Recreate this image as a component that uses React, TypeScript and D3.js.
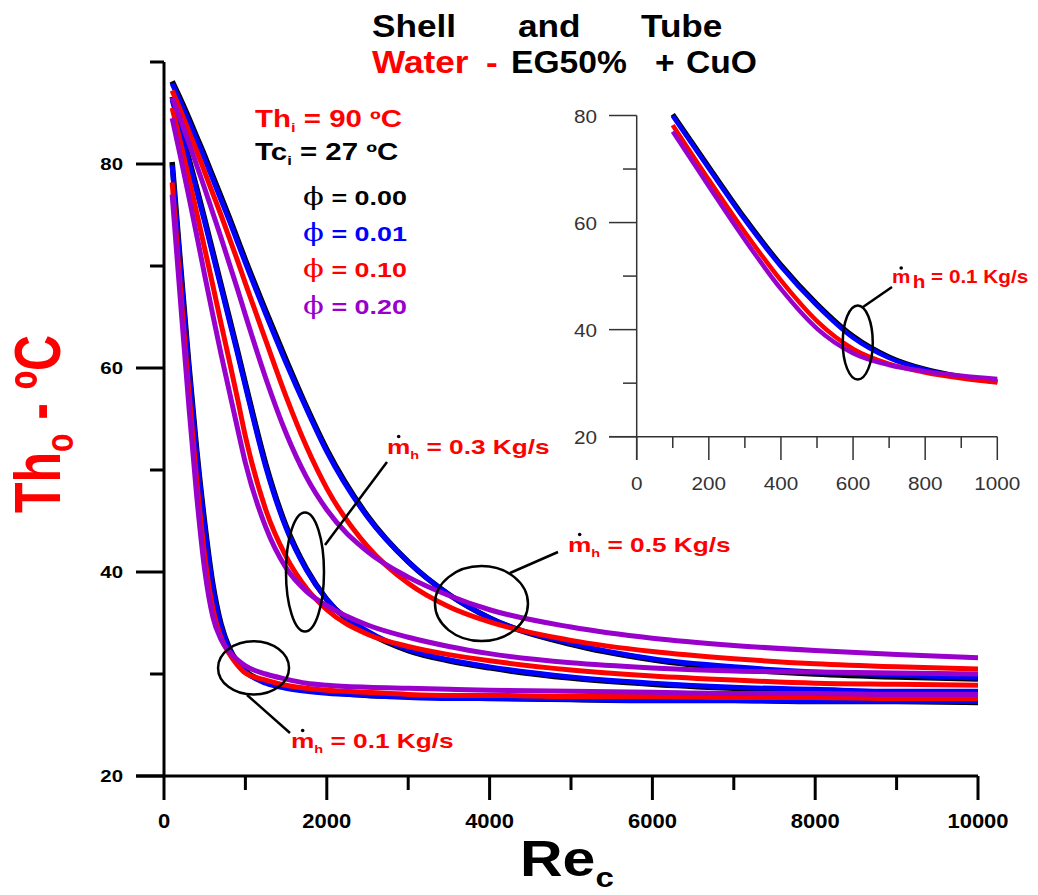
import React from "react";
import * as d3 from "d3";

// ---------- data ----------
const RE = [100, 200, 300, 400, 500, 600, 700, 800, 900, 1000, 1250, 1500, 1750, 2000, 2500, 3000, 3500, 4000, 5000, 6000, 7000, 8000, 9000, 10000];

// m_h = 0.1 kg/s
const MH01_PHI000 = [80.2, 70.4, 60.8, 52.1, 44.8, 38.8, 34.9, 32.6, 31.2, 30.3, 29.2, 28.7, 28.4, 28.2, 27.9, 27.8, 27.7, 27.6, 27.5, 27.4, 27.4, 27.3, 27.3, 27.2];
const MH01_PHI001 = [79.9, 70.1, 60.5, 51.8, 44.5, 38.5, 34.7, 32.5, 31.1, 30.2, 29.1, 28.6, 28.3, 28.1, 27.9, 27.7, 27.6, 27.6, 27.5, 27.4, 27.4, 27.3, 27.3, 27.3];
const MH01_PHI010 = [78.2, 68.0, 58.2, 49.2, 41.6, 36.4, 33.6, 32.0, 30.9, 30.1, 29.4, 28.9, 28.6, 28.4, 28.2, 28.0, 27.9, 27.9, 27.8, 27.8, 27.7, 27.7, 27.6, 27.6];
const MH01_PHI020 = [77.0, 66.8, 56.8, 47.6, 40.2, 35.6, 33.4, 32.2, 31.4, 30.8, 30.0, 29.5, 29.1, 28.9, 28.7, 28.6, 28.5, 28.4, 28.3, 28.2, 28.1, 28.1, 28.0, 28.0];

// m_h = 0.3 kg/s
const MH03_PHI000 = [86.6, 83.7, 80.7, 77.7, 74.6, 71.4, 68.2, 65.0, 61.8, 58.5, 50.6, 44.5, 40.3, 37.3, 34.1, 32.3, 31.3, 30.6, 29.6, 29.0, 28.6, 28.3, 28.1, 28.0];
const MH03_PHI001 = [86.3, 83.4, 80.4, 77.4, 74.3, 71.1, 67.9, 64.7, 61.5, 58.2, 50.3, 44.3, 40.2, 37.3, 34.2, 32.4, 31.4, 30.7, 29.7, 29.1, 28.7, 28.5, 28.3, 28.3];
const MH03_PHI010 = [85.5, 82.2, 78.8, 75.3, 71.7, 68.1, 64.4, 60.8, 57.1, 53.3, 46.1, 41.5, 38.4, 36.3, 33.9, 32.7, 31.9, 31.3, 30.4, 29.8, 29.4, 29.1, 29.0, 28.9];
const MH03_PHI020 = [84.5, 80.8, 77.0, 73.1, 69.1, 65.2, 61.4, 57.8, 54.2, 50.7, 44.4, 40.4, 38.1, 36.7, 34.8, 33.6, 32.7, 32.0, 31.1, 30.6, 30.3, 30.2, 30.1, 30.0];

// m_h = 0.5 kg/s
const MH05_PHI000 = [88.1, 86.4, 84.6, 82.7, 80.8, 78.8, 76.8, 74.8, 72.7, 70.6, 65.6, 60.8, 56.2, 52.0, 45.5, 41.0, 37.8, 35.5, 32.9, 31.4, 30.5, 30.0, 29.7, 29.5];
const MH05_PHI001 = [87.9, 86.1, 84.3, 82.4, 80.5, 78.5, 76.5, 74.5, 72.4, 70.3, 65.3, 60.5, 56.0, 51.8, 45.4, 41.0, 37.8, 35.5, 33.0, 31.5, 30.7, 30.2, 29.9, 29.6];
const MH05_PHI010 = [87.2, 85.3, 83.3, 81.3, 79.2, 77.1, 75.0, 72.8, 70.6, 68.3, 62.7, 57.2, 52.3, 48.2, 42.5, 38.9, 36.6, 35.1, 33.3, 32.2, 31.5, 31.0, 30.7, 30.5];
const MH05_PHI020 = [86.5, 84.4, 82.2, 79.9, 77.6, 75.2, 72.8, 70.3, 67.8, 65.2, 59.0, 53.6, 49.3, 46.1, 42.0, 39.5, 37.7, 36.3, 34.6, 33.5, 32.8, 32.3, 31.9, 31.6];

const PHI_LABELS = ["0.00", "0.01", "0.10", "0.20"];
const PHI_COLORS = ["#000000", "#0000ff", "#ff0000", "#9900cc"];
const MH_LABELS = ["0.1", "0.3", "0.5"];

const SERIES = [
  { mh: 0, phi: 0, values: MH01_PHI000 },
  { mh: 0, phi: 1, values: MH01_PHI001 },
  { mh: 0, phi: 2, values: MH01_PHI010 },
  { mh: 0, phi: 3, values: MH01_PHI020 },
  { mh: 1, phi: 0, values: MH03_PHI000 },
  { mh: 1, phi: 1, values: MH03_PHI001 },
  { mh: 1, phi: 2, values: MH03_PHI010 },
  { mh: 1, phi: 3, values: MH03_PHI020 },
  { mh: 2, phi: 0, values: MH05_PHI000 },
  { mh: 2, phi: 1, values: MH05_PHI001 },
  { mh: 2, phi: 2, values: MH05_PHI010 },
  { mh: 2, phi: 3, values: MH05_PHI020 },
];

const X_MAJOR = [0, 2000, 4000, 6000, 8000, 10000];
const X_MINOR = [1000, 3000, 5000, 7000, 9000];
const Y_MAJOR = [20, 40, 60, 80];
const Y_MINOR = [30, 50, 70, 90];

const IX_MAJOR = [0, 200, 400, 600, 800, 1000];
const IX_MINOR = [100, 300, 500, 700, 900];
const IY_MAJOR = [20, 40, 60, 80];
const IY_MINOR = [30, 50, 70];

// ---------- layout ----------
const SANS = "'Liberation Sans', Arial, Helvetica, sans-serif";
const SERIF = "'DejaVu Serif', 'Liberation Serif', serif";

const xs = d3.scaleLinear().domain([0, 10000]).range([164, 978]);
const ys = d3.scaleLinear().domain([20, 90]).range([776, 62]);
const ixs = d3.scaleLinear().domain([0, 1000]).range([636.7, 997.3]);
const iys = d3.scaleLinear().domain([20, 80]).range([436.7, 115.5]);

function Txt(props: any) {
  const { x, y, size, sx = 1, anchor = "start", fill = "#000", weight = "bold", family = SANS, children } = props;
  return (
    <text
      transform={`translate(${x},${y}) scale(${sx},1)`}
      fontSize={size}
      textAnchor={anchor}
      fill={fill}
      fontWeight={weight}
      fontFamily={family}
    >
      {children}
    </text>
  );
}

function MhLabel(props: any) {
  const { x, y, size, sx, value, inset } = props;
  const mW = 0.889 * size;
  return (
    <g transform={`translate(${x},${y}) scale(${sx},1)`}>
      <text fontSize={size} fontWeight="bold" fontFamily={SANS} fill="#ff0000">
        <tspan>m</tspan>
        {inset ? (
          <tspan dx={2} dy={5}>h</tspan>
        ) : (
          <tspan dy={5} fontSize={size * 0.55}>h</tspan>
        )}
        <tspan dy={-5}>{` = ${value} Kg/s`}</tspan>
      </text>
      <ellipse cx={mW / 2} cy={-size * 0.83} rx={1.8 / sx} ry={1.8} fill="#000" />
    </g>
  );
}

export default function App() {
  const line = d3
    .line<[number, number]>()
    .x((d) => xs(d[0]))
    .y((d) => ys(d[1]))
    .curve(d3.curveMonotoneX);
  const iline = d3
    .line<[number, number]>()
    .x((d) => ixs(d[0]))
    .y((d) => iys(d[1]))
    .curve(d3.curveMonotoneX);

  const ordered = [0, 1, 2, 3].flatMap((p) => SERIES.filter((s) => s.phi === p));
  const insetSeries = SERIES.filter((s) => s.mh === 0);

  return (
    <svg
      width={1038}
      height={895}
      style={{ position: "absolute", left: 0, top: 0, background: "#fff" }}
    >
      <rect x={0} y={0} width={1038} height={895} fill="#fff" />

      {/* Title */}
      <Txt x={372} y={37} size={32} sx={1.1}>Shell</Txt>
      <Txt x={518} y={37} size={32} sx={1.1}>and</Txt>
      <Txt x={641} y={37} size={32} sx={1.1}>Tube</Txt>
      <Txt x={372} y={73} size={32} sx={1.1} fill="#ff0000">Water</Txt>
      <Txt x={486} y={73} size={32} sx={1.1} fill="#ff0000">-</Txt>
      <Txt x={511} y={73} size={32} sx={1.05}>EG50%</Txt>
      <Txt x={655} y={73} size={32} sx={1.05}>+</Txt>
      <Txt x={686} y={73} size={32} sx={1.05}>CuO</Txt>

      {/* Main curves */}
      {ordered.map((s, i) => (
        <path
          key={i}
          d={line(RE.map((r, k) => [r, s.values[k]] as [number, number])) || ""}
          fill="none"
          stroke={PHI_COLORS[s.phi]}
          strokeWidth={s.phi === 0 ? 5.5 : 5}
          strokeLinejoin="round"
        />
      ))}

      {/* Main axes */}
      <line x1={xs(0)} x2={xs(0)} y1={ys(90)} y2={ys(20)} stroke="#000" strokeWidth={3} />
      <line x1={136} x2={xs(10000)} y1={ys(20)} y2={ys(20)} stroke="#000" strokeWidth={3} />
      {Y_MAJOR.map((v) => (
        <g key={"ym" + v}>
          <line x1={136} x2={xs(0)} y1={ys(v)} y2={ys(v)} stroke="#000" strokeWidth={3} />
          <Txt x={123} y={ys(v) + 6} size={17} sx={1.2} anchor="end">{v}</Txt>
        </g>
      ))}
      {Y_MINOR.map((v) => (
        <line key={"yn" + v} x1={150} x2={xs(0)} y1={ys(v)} y2={ys(v)} stroke="#000" strokeWidth={3} />
      ))}
      {X_MAJOR.map((v) => (
        <g key={"xm" + v}>
          <line x1={xs(v)} x2={xs(v)} y1={ys(20)} y2={800} stroke="#000" strokeWidth={3} />
          <Txt x={xs(v)} y={828} size={20} sx={1.1} anchor="middle">{v}</Txt>
        </g>
      ))}
      {X_MINOR.map((v) => (
        <line key={"xn" + v} x1={xs(v)} x2={xs(v)} y1={ys(20)} y2={790} stroke="#000" strokeWidth={3} />
      ))}

      {/* Axis titles */}
      <text transform="translate(520,876) scale(1.18,1)" fontSize={50} fontWeight="bold" fontFamily={SANS} fill="#000">
        Re
        <tspan dy={11} fontSize={28}>c</tspan>
      </text>
      <text
        transform="translate(60,513) scale(1.3,1) rotate(-90)"
        fontSize={50}
        fontWeight="bold"
        fontFamily={SANS}
        fill="#ff0000"
      >
        Th
        <tspan dy={10} fontSize={30}>o</tspan>
        <tspan dy={-10}>{" - \u00BAC"}</tspan>
      </text>

      {/* Condition labels */}
      <Txt x={255} y={127} size={23} sx={1.28} fill="#ff0000">
        Th<tspan dy={5} fontSize={13}>i</tspan><tspan dy={-5}>{" = 90 \u00BAC"}</tspan>
      </Txt>
      <Txt x={255} y={160} size={23} sx={1.28} fill="#000">
        Tc<tspan dy={5} fontSize={13}>i</tspan><tspan dy={-5}>{" = 27 \u00BAC"}</tspan>
      </Txt>
      {PHI_LABELS.map((p, i) => (
        <Txt key={p} x={303} y={205 + i * 36.2} size={21} sx={1.28} fill={PHI_COLORS[i]}>
          <tspan fontFamily={SERIF} fontWeight="normal" fontSize={24}>{"\u03D5"}</tspan>
          {` = ${p}`}
        </Txt>
      ))}

      {/* Main annotations */}
      <ellipse cx={xs(1100)} cy={ys(30.6)} rx={35.5} ry={26.7} fill="none" stroke="#000" strokeWidth={2.5} />
      <line x1={247} y1={695} x2={290} y2={733} stroke="#000" strokeWidth={2.5} />
      <MhLabel x={291} y={748} size={21} sx={1.25} value={MH_LABELS[0]} />

      <ellipse cx={xs(1732)} cy={ys(40)} rx={19} ry={59.5} fill="none" stroke="#000" strokeWidth={2.5} />
      <line x1={325} y1={545} x2={387} y2={462} stroke="#000" strokeWidth={2.5} />
      <MhLabel x={387} y={454} size={21} sx={1.25} value={MH_LABELS[1]} />

      <ellipse cx={xs(3900)} cy={ys(36.9)} rx={46.5} ry={37.5} fill="none" stroke="#000" strokeWidth={2.5} />
      <line x1={510} y1={573} x2={558} y2={552} stroke="#000" strokeWidth={2.5} />
      <MhLabel x={568} y={552} size={21} sx={1.25} value={MH_LABELS[2]} />

      {/* Inset */}
      {insetSeries.map((s, i) => (
        <path
          key={"in" + i}
          d={
            iline(
              RE.map((r, k) => [r, s.values[k]] as [number, number]).filter((d) => d[0] <= 1000)
            ) || ""
          }
          fill="none"
          stroke={PHI_COLORS[s.phi]}
          strokeWidth={s.phi === 0 ? 5 : 4.5}
          strokeLinejoin="round"
        />
      ))}
      <line x1={ixs(0)} x2={ixs(0)} y1={iys(80)} y2={460} stroke="#333" strokeWidth={1.5} />
      <line x1={609} x2={ixs(1000)} y1={iys(20)} y2={iys(20)} stroke="#333" strokeWidth={1.5} />
      {IY_MAJOR.map((v) => (
        <g key={"iym" + v}>
          <line x1={609} x2={ixs(0)} y1={iys(v)} y2={iys(v)} stroke="#333" strokeWidth={1.5} />
          <Txt x={597} y={iys(v) + 7} size={18} sx={1.15} anchor="end" weight="normal" fill="#333">{v}</Txt>
        </g>
      ))}
      {IY_MINOR.map((v) => (
        <line key={"iyn" + v} x1={623} x2={ixs(0)} y1={iys(v)} y2={iys(v)} stroke="#333" strokeWidth={1.5} />
      ))}
      {IX_MAJOR.map((v) => (
        <g key={"ixm" + v}>
          <line x1={ixs(v)} x2={ixs(v)} y1={iys(20)} y2={460} stroke="#333" strokeWidth={1.5} />
          <Txt x={ixs(v)} y={490} size={18} sx={1.15} anchor="middle" weight="normal" fill="#333">{v}</Txt>
        </g>
      ))}
      {IX_MINOR.map((v) => (
        <line key={"ixn" + v} x1={ixs(v)} x2={ixs(v)} y1={iys(20)} y2={448} stroke="#333" strokeWidth={1.5} />
      ))}
      <ellipse cx={ixs(613)} cy={iys(37.6)} rx={15} ry={37} fill="none" stroke="#000" strokeWidth={2.5} />
      <line x1={863} y1={307} x2={892} y2={287} stroke="#000" strokeWidth={2.5} />
      <MhLabel x={892} y={283} size={18} sx={1.15} value={MH_LABELS[0]} inset />
    </svg>
  );
}
